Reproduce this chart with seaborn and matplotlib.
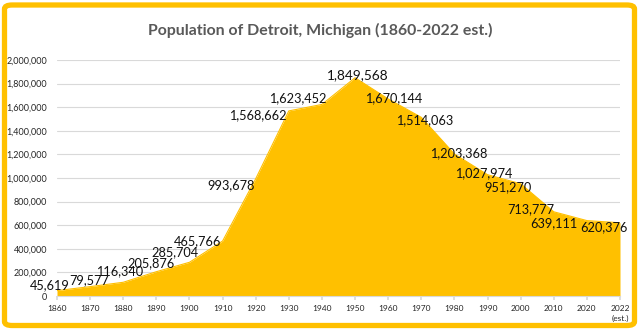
import matplotlib
matplotlib.use("Agg")
import matplotlib.pyplot as plt
from matplotlib.patches import FancyBboxPatch
from matplotlib.ticker import FuncFormatter
import seaborn as sns
import pandas as pd

# Detroit census counts, 1860-2020, plus the 2022 estimate
years = [1860, 1870, 1880, 1890, 1900, 1910, 1920, 1930, 1940,
         1950, 1960, 1970, 1980, 1990, 2000, 2010, 2020, 2022]
population = [45619, 79577, 116340, 205876, 285704, 465766, 993678,
              1568662, 1623452, 1849568, 1670144, 1514063, 1203368,
              1027974, 951270, 713777, 639111, 620376]
year_labels = [str(y) for y in years[:-1]] + ["2022\n(est.)"]
title = "Population of Detroit, Michigan (1860-2022 est.)"

# label offsets (pixels) from each data point, hand-placed for legibility
label_offsets = [(-7, 5), (-1, 6), (-4, 11), (-5, 9), (-15, 10), (-25, 0),
                 (-25, -6), (-31, -4), (-24, 6), (3, 3), (5, 1), (3, -3),
                 (4, 1), (-4, 2), (-13, -3), (-23, 3), (-33, -3), (-16, -4)]

GOLD = "#FFC000"

sns.set_theme(style="white")
plt.rcParams["font.family"] = ["Lato", "DejaVu Sans"]

df = pd.DataFrame({"pos": range(len(years)), "population": population})

fig = plt.figure(figsize=(6.4, 3.34), dpi=100)
ax = fig.add_axes([57 / 640, 1 - 296 / 334, 563 / 640, 236 / 334])

ax.fill_between(df["pos"], df["population"], 0, color=GOLD, linewidth=0, zorder=2)
sns.lineplot(data=df, x="pos", y="population", ax=ax, color=GOLD,
             linewidth=0.8, zorder=2)

ax.set_xlim(0, len(years) - 1)
ax.set_ylim(0, 2000000)
ax.set_yticks(range(0, 2000001, 200000))
ax.yaxis.set_major_formatter(FuncFormatter(lambda v, _: f"{int(v):,}"))
ax.set_xticks(df["pos"])
ax.set_xticklabels(year_labels)
ax.set_xlabel("")
ax.set_ylabel("")

ax.grid(axis="y", color="#D9D9D9", linewidth=0.8, zorder=0)
ax.set_axisbelow(True)
for side in ["top", "right", "left"]:
    ax.spines[side].set_visible(False)
ax.spines["bottom"].set_color("#D9D9D9")
ax.spines["bottom"].set_linewidth(0.8)
ax.spines["bottom"].set_zorder(3)

ax.tick_params(axis="y", length=0, pad=7, labelsize=6.5, labelcolor="#262626")
ax.tick_params(axis="x", length=3, color="#D9D9D9", pad=3.5, labelsize=6,
               labelcolor="#262626", bottom=True)
for lbl in ax.get_xticklabels():
    lbl.set_linespacing(1.5)
    lbl.set_verticalalignment("top")

for i, (v, (dx, dy)) in enumerate(zip(population, label_offsets)):
    size = 9.8 if v == max(population) else 9.2
    ax.annotate(f"{v:,}", xy=(i, v), xytext=(dx, dy), textcoords="offset pixels",
                ha="center", va="center", fontsize=size, color="#111111",
                zorder=5, annotation_clip=False)

fig.text(0.5, 1 - 30 / 334, title, ha="center", va="center",
         fontsize=11.4, fontweight="bold", color="#595959")

border = FancyBboxPatch((4.5 / 640, 1 - 325.5 / 334), 630 / 640, 320.5 / 334,
                        boxstyle="round,pad=0,rounding_size=0.012",
                        transform=fig.transFigure, fill=False,
                        edgecolor=GOLD, linewidth=3.8, zorder=10)
fig.patches.append(border)

fig.savefig("out.png", dpi=100, facecolor="white")
